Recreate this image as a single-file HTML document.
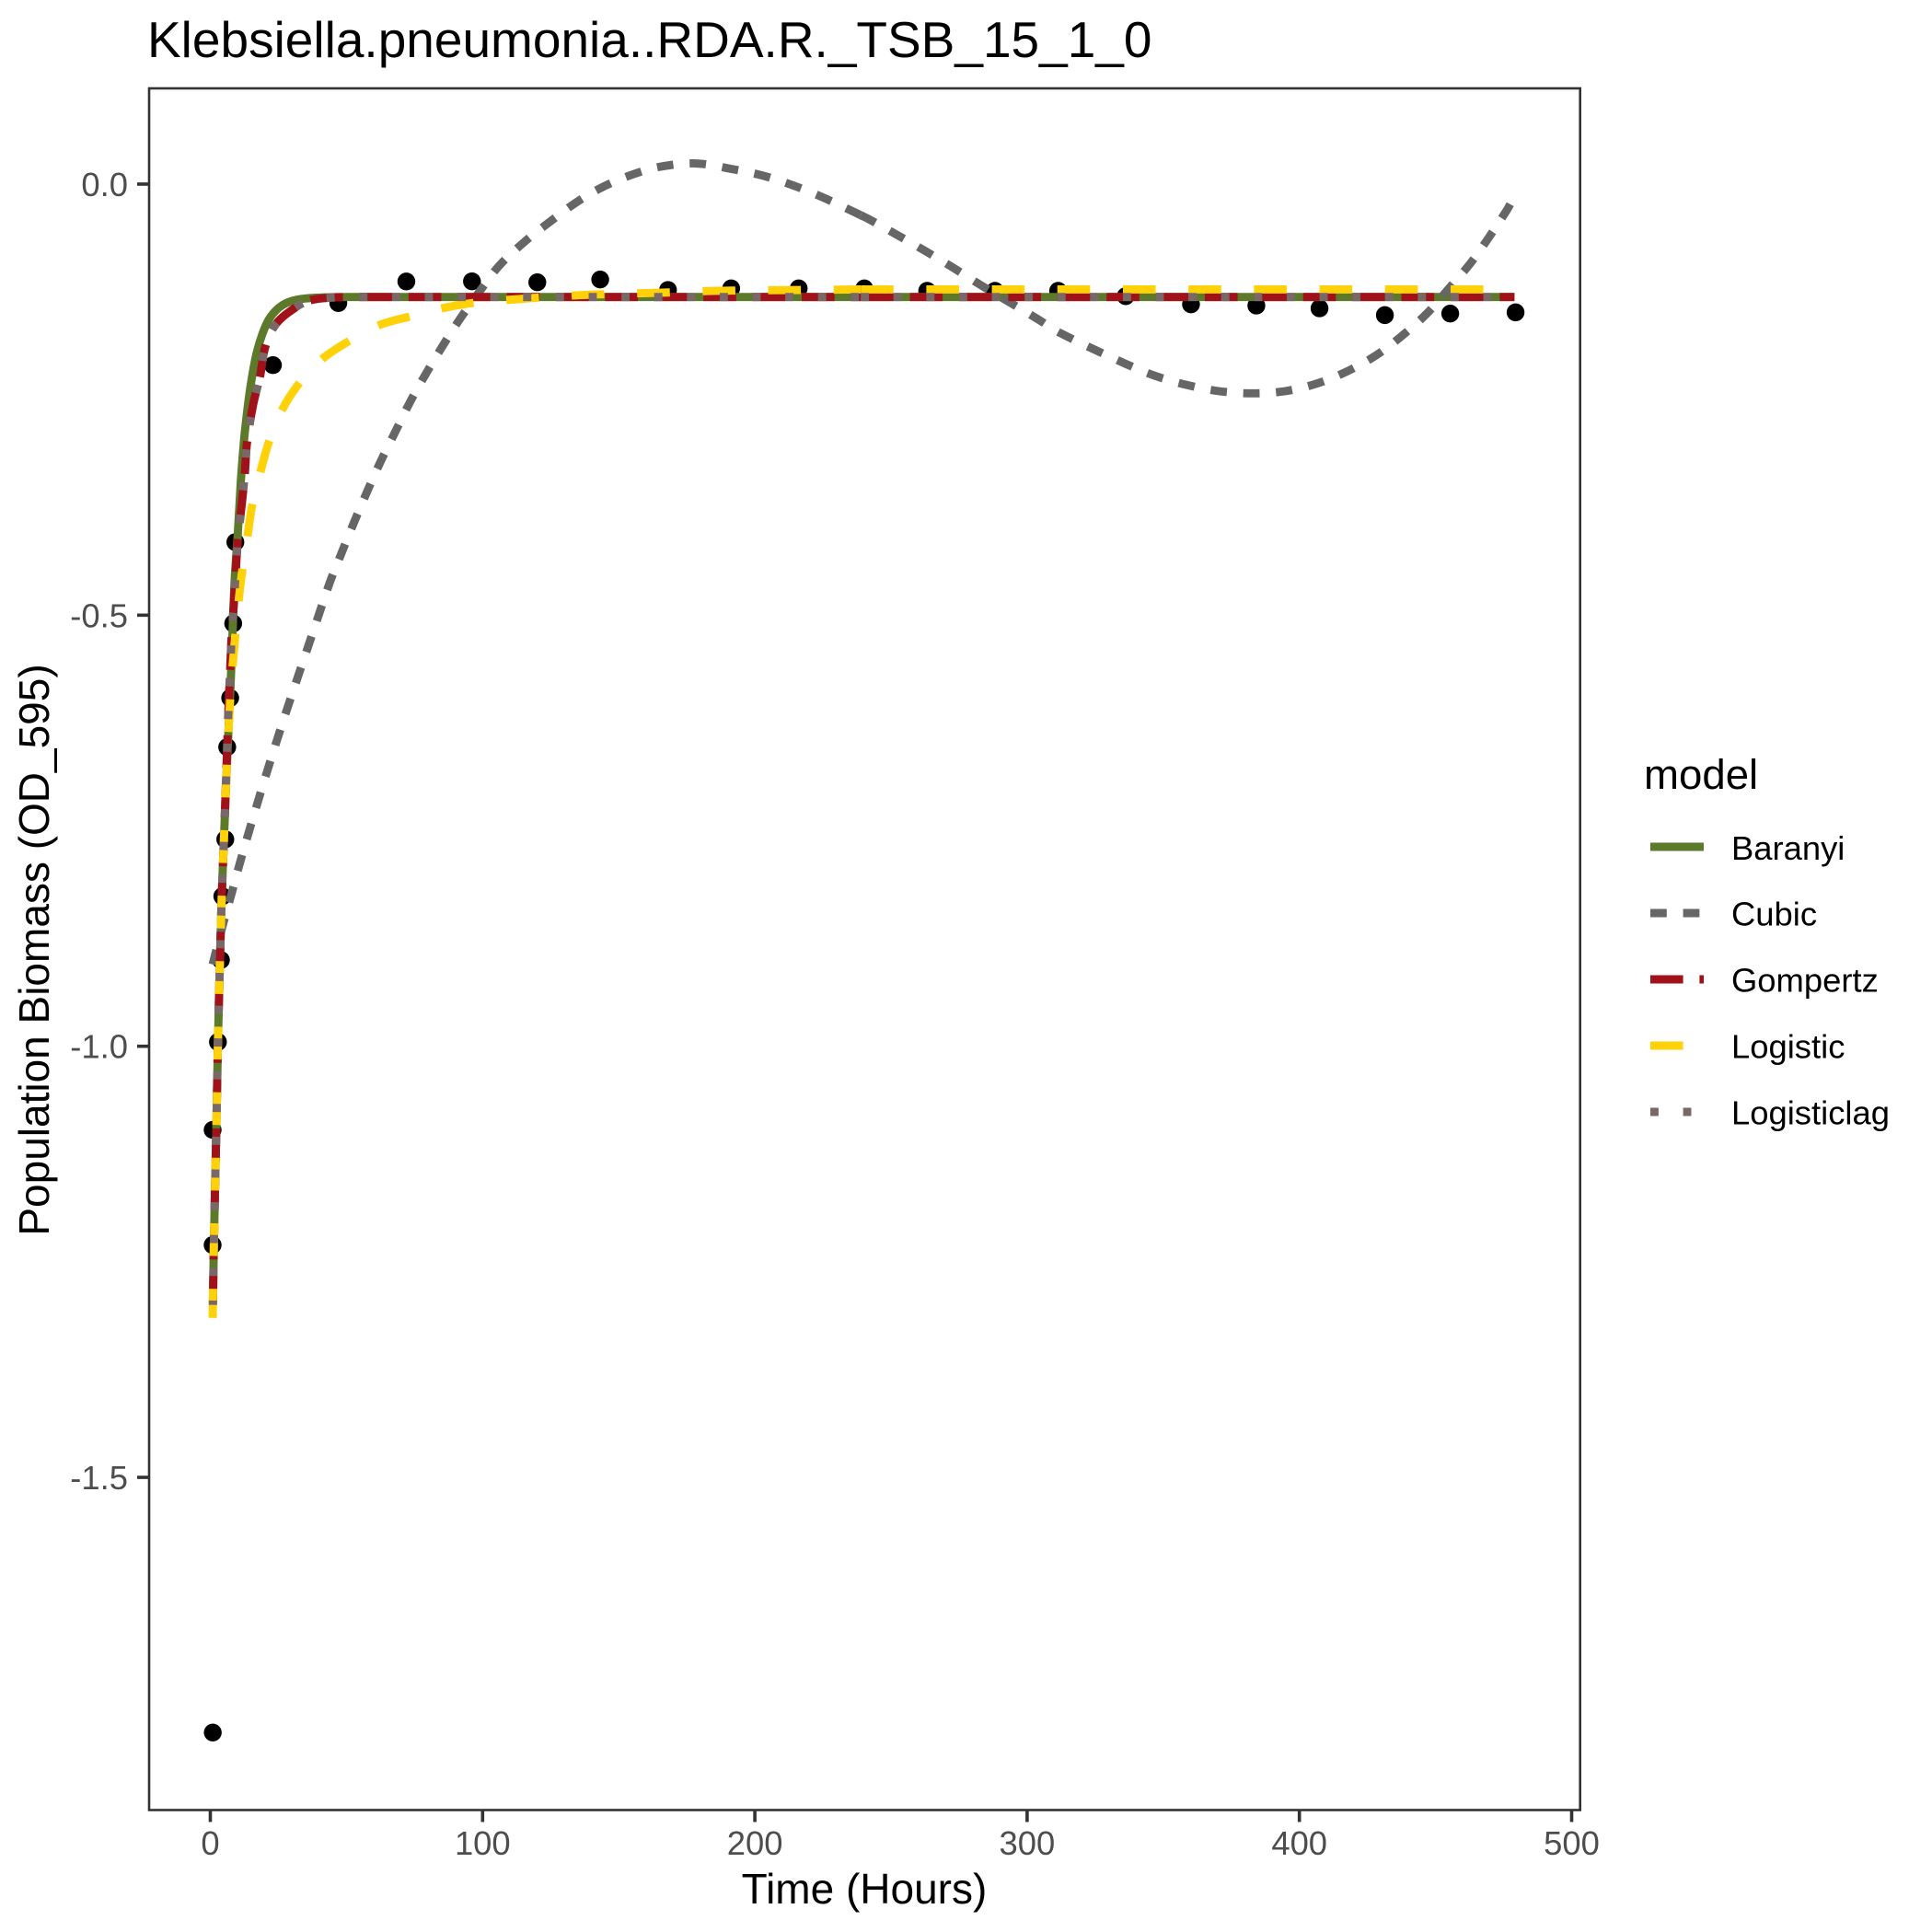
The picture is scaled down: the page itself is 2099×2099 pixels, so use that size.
<!DOCTYPE html>
<html lang="en">
<head>
<meta charset="utf-8">
<title>Klebsiella.pneumonia..RDA.R._TSB_15_1_0</title>
<style>
html,body{margin:0;padding:0;background:#fff;}
svg{display:block;font-family:"Liberation Sans",Arial,sans-serif;}
</style>
</head>
<body>
<svg id="chart" xmlns="http://www.w3.org/2000/svg" width="2099" height="2099" viewBox="0 0 2099 2099">
  <rect x="0" y="0" width="2099" height="2099" fill="#ffffff"/>
  <text x="160" y="62" font-size="55" fill="#000">Klebsiella.pneumonia..RDA.R._TSB_15_1_0</text>
  <g id="marks"></g>
  <rect x="162" y="96" width="1554.7" height="1870.5" fill="none" stroke="#333333" stroke-width="2.6"/>
  <g id="axes"></g>
  <text x="939" y="2068" font-size="46" text-anchor="middle" fill="#000">Time (Hours)</text>
  <text transform="translate(53,1032) rotate(-90)" font-size="46" text-anchor="middle" fill="#000">Population Biomass (OD_595)</text>
  <g>
    <text x="1786" y="857" font-size="45.6" fill="#000">model</text>
    <g>
      <line x1="1793" x2="1851" y1="920" y2="920" stroke="#5C7A29" stroke-width="8.9"/>
      <text x="1881" y="934" font-size="36.4" fill="#000">Baranyi</text>
    </g>
    <g>
      <line x1="1793" x2="1851" y1="992" y2="992" stroke="#666666" stroke-width="8.9" stroke-dasharray="17.8 17.8"/>
      <text x="1881" y="1005.5" font-size="36.4" fill="#000">Cubic</text>
    </g>
    <g>
      <line x1="1793" x2="1851" y1="1064" y2="1064" stroke="#A0111A" stroke-width="8.9" stroke-dasharray="35.6 17.8"/>
      <text x="1881" y="1077.5" font-size="36.4" fill="#000">Gompertz</text>
    </g>
    <g>
      <line x1="1793" x2="1851" y1="1136" y2="1136" stroke="#FFD109" stroke-width="8.9" stroke-dasharray="35.6 35.6"/>
      <text x="1881" y="1149.5" font-size="36.4" fill="#000">Logistic</text>
    </g>
    <g>
      <line x1="1793" x2="1851" y1="1208" y2="1208" stroke="#786868" stroke-width="8.9" stroke-dasharray="8.9 26.7"/>
      <text x="1881" y="1221.5" font-size="36.4" fill="#000">Logisticlag</text>
    </g>
  </g>
</svg>
<script>
var xTickValues = [0, 100, 200, 300, 400, 500];
var xTickLabels = ["0", "100", "200", "300", "400", "500"];
var yTickValues = [0, -0.5, -1, -1.5];
var yTickLabels = ["0.0", "-0.5", "-1.0", "-1.5"];

var pointTimes = [0.9, 0.85, 0.85, 2.8, 3.9, 4.4, 5.5, 6.2, 7.3, 8.4, 9.2, 23, 47, 72, 96.1, 120.1, 143.2, 168.1, 191.3, 216.1, 240.2, 263.3, 288.2, 311.4, 336.2, 360.2, 384.2, 407.4, 431.4, 455.4, 479.4];
var pointValues = [-1.796, -1.2305, -1.097, -0.995, -0.9, -0.826, -0.76, -0.653, -0.596, -0.5096, -0.4153, -0.21, -0.138, -0.113, -0.1128, -0.1139, -0.1107, -0.1228, -0.121, -0.121, -0.121, -0.1238, -0.1238, -0.1238, -0.13, -0.1395, -0.1409, -0.1441, -0.152, -0.1502, -0.1488];

var baranyiTimes = [0.95, 1.3, 2.2, 2.8, 3.55, 4.2, 5, 6, 7.6, 8.4, 9, 10.1, 11.2, 12.3, 12.9, 14.6, 16.8, 19.1, 21.9, 26.4, 32, 41, 52, 100, 200, 300, 400, 479];
var baranyiValues = [-1.3, -1.23, -1.097, -0.995, -0.9, -0.826, -0.76, -0.68, -0.569, -0.5, -0.4555, -0.405, -0.345, -0.3, -0.281, -0.238, -0.199, -0.174, -0.155, -0.1406, -0.134, -0.1315, -0.131, -0.131, -0.131, -0.131, -0.131, -0.131];

var cubicTimes = [0.85, 4.8, 7.8, 10.9, 14, 20, 26, 32, 38, 43.9, 48.4, 52.9, 57.6, 62.5, 67.9, 73.2, 79.2, 85.3, 91.8, 99.7, 106, 115, 125, 135, 145, 155, 165, 178, 191, 202.8, 214.3, 225.4, 236.2, 241.6, 252.1, 262.6, 272.9, 283.1, 293.5, 303.9, 312, 336, 347, 358.8, 370.5, 382.7, 394.7, 406.5, 417.6, 428.2, 437.6, 446.8, 454.6, 462.5, 469.5, 476.2, 478];
var cubicValues = [-0.905, -0.857, -0.823, -0.787, -0.753, -0.69, -0.63, -0.573, -0.517, -0.4619, -0.4263, -0.3914, -0.3566, -0.3221, -0.2875, -0.2537, -0.2199, -0.1879, -0.1559, -0.121, -0.095, -0.068, -0.043, -0.02, -0.002, 0.011, 0.02, 0.024, 0.0178, 0.0099, -0.0018, -0.016, -0.032, -0.0402, -0.0587, -0.0776, -0.0971, -0.1174, -0.137, -0.1566, -0.1725, -0.2082, -0.2224, -0.2331, -0.2402, -0.2427, -0.2402, -0.2313, -0.2171, -0.1986, -0.1762, -0.1502, -0.1221, -0.0932, -0.0623, -0.0302, -0.02];

var gompertzTimes = [0.95, 1.3, 2.2, 2.8, 3.55, 4.2, 5, 6, 6.7, 7.3, 7.8, 8.7, 9.5, 10.1, 11.6, 12.7, 13.5, 15.7, 18.3, 20.2, 24.2, 32, 37.1, 46.7, 60, 100, 200, 300, 400, 479];
var gompertzValues = [-1.3, -1.23, -1.097, -0.995, -0.9, -0.826, -0.76, -0.67, -0.605, -0.562, -0.5266, -0.484, -0.441, -0.4128, -0.37, -0.3345, -0.299, -0.2562, -0.2224, -0.1886, -0.1619, -0.1416, -0.1345, -0.1313, -0.131, -0.131, -0.131, -0.131, -0.131, -0.131];

var logisticTimes = [0.85, 1.3, 2.2, 2.8, 3.55, 4.2, 5, 6, 7.3, 8.2, 9.2, 10.4, 11.8, 13.7, 15.4, 18.5, 21.7, 26.4, 32.6, 41.1, 51.2, 61.9, 73.2, 85, 96.2, 108.7, 120.5, 133, 144.5, 156.7, 168.5, 180.7, 192.5, 204.7, 216.5, 229, 239, 300, 400, 479];
var logisticValues = [-1.315, -1.23, -1.097, -0.995, -0.9, -0.826, -0.76, -0.68, -0.598, -0.558, -0.5224, -0.4833, -0.4466, -0.4075, -0.3719, -0.3327, -0.2972, -0.2616, -0.2313, -0.2028, -0.1815, -0.1637, -0.1537, -0.1441, -0.138, -0.1345, -0.1317, -0.1292, -0.1278, -0.1267, -0.1257, -0.1242, -0.1235, -0.1231, -0.1228, -0.1224, -0.1222, -0.1222, -0.1222, -0.1222];

var logisticlagTimes = [0.95, 1.3, 2.2, 2.8, 3.55, 4.2, 5, 6, 6.7, 7.3, 7.8, 8.7, 9.5, 10.1, 11.6, 12.7, 13.5, 15.7, 18.3, 20.2, 24.2, 32, 37.1, 46.7, 60, 100, 200, 300, 400, 479];
var logisticlagValues = [-1.3, -1.23, -1.097, -0.995, -0.9, -0.826, -0.76, -0.67, -0.605, -0.562, -0.5266, -0.484, -0.441, -0.4128, -0.37, -0.3345, -0.299, -0.2562, -0.2224, -0.1886, -0.1619, -0.1416, -0.1345, -0.1313, -0.131, -0.131, -0.131, -0.131, -0.131, -0.131];

var lineRestartTime = 238.9;

var NS = "http://www.w3.org/2000/svg";
function xScale(t) { return 228.5 + t * 2.958; }
function yScale(v) { return 200 - v * 936.7; }

function smoothPath(pts) {
  var d = "M" + pts[0][0].toFixed(2) + " " + pts[0][1].toFixed(2);
  function dist(a, b) { return Math.sqrt((a[0]-b[0])*(a[0]-b[0]) + (a[1]-b[1])*(a[1]-b[1])); }
  function tangent(i) {
    var a = pts[Math.max(i-1, 0)], b = pts[Math.min(i+1, pts.length-1)];
    var l = dist(a, b) || 1;
    return [(b[0]-a[0])/l, (b[1]-a[1])/l];
  }
  for (var i = 0; i < pts.length-1; i++) {
    var s = dist(pts[i], pts[i+1]) / 3;
    var m0 = tangent(i), m1 = tangent(i+1);
    d += "C" + (pts[i][0]+m0[0]*s).toFixed(2) + " " + (pts[i][1]+m0[1]*s).toFixed(2) + " " +
         (pts[i+1][0]-m1[0]*s).toFixed(2) + " " + (pts[i+1][1]-m1[1]*s).toFixed(2) + " " +
         pts[i+1][0].toFixed(2) + " " + pts[i+1][1].toFixed(2);
  }
  return d;
}

function drawPart(parent, name, pts, color, dash) {
  var el = document.createElementNS(NS, "path");
  
  
  el.setAttribute("d", smoothPath(pts));
  el.setAttribute("fill", "none");
  el.setAttribute("stroke", color);
  el.setAttribute("stroke-width", "8.9");
  if (dash) { el.setAttribute("stroke-dasharray", dash); }
  parent.appendChild(el);
  return el;
}

function drawLine(parent, name, times, values, color, dash, period, endPhase) {
  var first = [], second = [];
  for (var i = 0; i < times.length; i++) {
    var p = [xScale(times[i]), yScale(values[i])];
    if (times[i] < lineRestartTime) {
      first.push(p);
    } else {
      if (second.length === 0) {
        var f = (lineRestartTime - times[i-1]) / (times[i] - times[i-1]);
        var mid = [xScale(lineRestartTime), yScale(values[i-1] + f * (values[i] - values[i-1]))];
        first.push(mid);
        second.push(mid);
      }
      second.push(p);
    }
  }
  var a = drawPart(parent, name + "-early", first, color, dash);
  if (dash) {
    var L = a.getTotalLength();
    var off = (((endPhase - L) % period) + period) % period;
    a.setAttribute("stroke-dashoffset", off.toFixed(2));
  }
  drawPart(parent, name + "-late", second, color, dash);
}

var marks = document.getElementById("marks");
for (var p = 0; p < pointTimes.length; p++) {
  var dot = document.createElementNS(NS, "circle");
  
  
  dot.setAttribute("cx", xScale(pointTimes[p]).toFixed(2));
  dot.setAttribute("cy", yScale(pointValues[p]).toFixed(2));
  dot.setAttribute("r", "9.7");
  dot.setAttribute("fill", "#000");
  marks.appendChild(dot);
}
drawLine(marks, "series-baranyi", baranyiTimes, baranyiValues, "#5C7A29", "", 0, 0);
drawLine(marks, "series-cubic", cubicTimes, cubicValues, "#666666", "17.8 17.8", 35.6, 17.8);
drawLine(marks, "series-gompertz", gompertzTimes, gompertzValues, "#A0111A", "35.6 17.8", 53.4, 10.8);
drawLine(marks, "series-logistic", logisticTimes, logisticValues, "#FFD109", "35.6 35.6", 71.2, 29.5);
drawLine(marks, "series-logisticlag", logisticlagTimes, logisticlagValues, "#786868", "8.9 26.7", 35.6, 10.9);

var axes = document.getElementById("axes");
for (var i = 0; i < xTickValues.length; i++) {
  var xp = xScale(xTickValues[i]);
  var xt = document.createElementNS(NS, "line");
  
  
  xt.setAttribute("x1", xp); xt.setAttribute("x2", xp);
  xt.setAttribute("y1", 1967); xt.setAttribute("y2", 1979.5);
  xt.setAttribute("stroke", "#333333"); xt.setAttribute("stroke-width", "3.6");
  axes.appendChild(xt);
  var xl = document.createElementNS(NS, "text");
  
  
  xl.setAttribute("x", xp); xl.setAttribute("y", 2015);
  xl.setAttribute("font-size", "36.4"); xl.setAttribute("text-anchor", "middle");
  xl.setAttribute("fill", "#4D4D4D");
  xl.textContent = xTickLabels[i];
  axes.appendChild(xl);
}
for (var j = 0; j < yTickValues.length; j++) {
  var yp = yScale(yTickValues[j]);
  var yt = document.createElementNS(NS, "line");
  
  
  yt.setAttribute("x1", 149); yt.setAttribute("x2", 161.5);
  yt.setAttribute("y1", yp); yt.setAttribute("y2", yp);
  yt.setAttribute("stroke", "#333333"); yt.setAttribute("stroke-width", "3.6");
  axes.appendChild(yt);
  var yl = document.createElementNS(NS, "text");
  
  
  yl.setAttribute("x", 139); yl.setAttribute("y", yp + 13);
  yl.setAttribute("font-size", "36.4"); yl.setAttribute("text-anchor", "end");
  yl.setAttribute("fill", "#4D4D4D");
  yl.textContent = yTickLabels[j];
  axes.appendChild(yl);
}
</script>
</body>
</html>
